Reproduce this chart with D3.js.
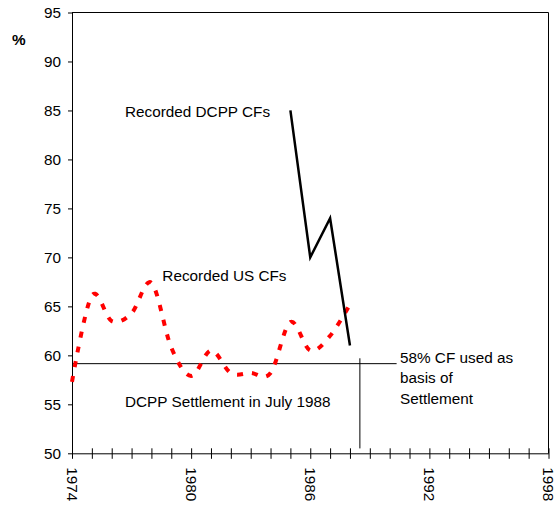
<!DOCTYPE html>
<html>
<head>
<meta charset="utf-8">
<script src="https://cdn.jsdelivr.net/npm/d3@7"></script>
<style>
  body { margin: 0; background: #fff; }
  text { font-family: "Liberation Sans", Arial, sans-serif; }
</style>
</head>
<body>
<svg id="chart"></svg>
<script>
// recorded capacity factors (%)
const usYears = [1974, 1975, 1976, 1977, 1978, 1979, 1980, 1981, 1982, 1983, 1984, 1985, 1986, 1987, 1988];
const usValues = [57.3, 66.1, 63.5, 64.3, 67.4, 60.8, 57.9, 60.5, 58.2, 58.2, 58.2, 63.4, 60.5, 62.0, 65.2];

const dcppYears = [1985, 1986, 1987, 1988];
const dcppValues = [85, 70, 74, 61];

// settlement basis line and July 1988 marker
const settlementLine = [{ year: 1974, value: 59.15 }, { year: 1990.35, value: 59.15 }];
const settlementMarker = [{ year: 1988.5, value: 50.5 }, { year: 1988.5, value: 59.7 }];

const yTicks = [50, 55, 60, 65, 70, 75, 80, 85, 90, 95];
const xLabels = [1974, 1980, 1986, 1992, 1998];

const width = 554, height = 507;
const margin = { top: 12.5, right: 5.5, bottom: 53.7, left: 72 };

const svg = d3.select("#chart")
    .attr("width", width)
    .attr("height", height);

const x = d3.scaleLinear()
    .domain([1974, 1998])
    .range([margin.left, width - margin.right]);

const y = d3.scaleLinear()
    .domain([50, 95])
    .range([height - margin.bottom, margin.top]);

const fontSize = "15.3px";

// plot frame (top and right edges)
svg.append("path")
    .attr("d", `M${x(1974)},${y(95)}H${x(1998)}V${y(50)}`)
    .attr("fill", "none")
    .attr("stroke", "#000")
    .attr("stroke-width", 1);

// y axis
const yAxis = svg.append("g")
    .attr("transform", `translate(${x(1974)},0)`)
    .call(d3.axisLeft(y).tickValues(yTicks).tickSize(4).tickPadding(7).tickSizeOuter(0));
yAxis.selectAll("text")
    .attr("font-size", fontSize)
    .attr("font-family", "Liberation Sans, Arial, sans-serif")
    .attr("fill", "#000");

// x axis: a tick every year, crossing the axis line
const xAxis = svg.append("g")
    .attr("transform", `translate(0,${y(50)})`)
    .call(d3.axisBottom(x).ticks(24).tickValues(d3.range(1974, 1999)).tickSize(0).tickFormat(""));
xAxis.selectAll(".tick line").remove();
xAxis.selectAll(".tick")
    .append("line")
    .attr("y1", -5)
    .attr("y2", 5.5)
    .attr("stroke", "#000");

svg.append("g")
    .selectAll("text")
    .data(xLabels)
    .join("text")
    .attr("transform", d => `translate(${x(d)},${y(50) + 14}) rotate(90)`)
    .attr("dy", "0.35em")
    .attr("font-size", fontSize)
    .attr("fill", "#000")
    .text(d => d);

svg.selectAll(".domain").attr("stroke", "#000");

// settlement lines
const ref = d3.line().x(d => x(d.year)).y(d => y(d.value));
svg.append("path")
    .attr("d", ref(settlementLine))
    .attr("stroke", "#000")
    .attr("stroke-width", 1)
    .attr("fill", "none");
svg.append("path")
    .attr("d", ref(settlementMarker))
    .attr("stroke", "#000")
    .attr("stroke-width", 1)
    .attr("fill", "none");

// US capacity factors: smoothed red dashed line
const usLine = d3.line()
    .x((d, i) => x(usYears[i]))
    .y(d => y(d))
    .curve(d3.curveCardinal.tension(0));
svg.append("path")
    .attr("d", usLine(usValues))
    .attr("fill", "none")
    .attr("stroke", "#ff0000")
    .attr("stroke-width", 4)
    .attr("stroke-dasharray", "6,9");

// DCPP capacity factors
const dcppLine = d3.line()
    .x((d, i) => x(dcppYears[i]))
    .y(d => y(d));
svg.append("path")
    .attr("d", dcppLine(dcppValues))
    .attr("fill", "none")
    .attr("stroke", "#000")
    .attr("stroke-width", 2.5);

// labels
const labels = [
    { text: "Recorded DCPP CFs", year: 1976.67, value: 84.36 },
    { text: "Recorded US CFs", year: 1978.55, value: 67.62 },
    { text: "DCPP Settlement in July 1988", year: 1976.67, value: 54.73 },
    { text: "58% CF used as", year: 1990.52, value: 59.19 },
    { text: "basis of", year: 1990.52, value: 57.15 },
    { text: "Settlement", year: 1990.52, value: 55.03 }
];
svg.append("g")
    .selectAll("text")
    .data(labels)
    .join("text")
    .attr("x", d => x(d.year))
    .attr("y", d => y(d.value))
    .attr("font-size", fontSize)
    .attr("fill", "#000")
    .text(d => d.text);

svg.append("text")
    .attr("x", 12)
    .attr("y", 45)
    .attr("font-size", fontSize)
    .attr("font-weight", "bold")
    .attr("fill", "#000")
    .text("%");
</script>
</body>
</html>
